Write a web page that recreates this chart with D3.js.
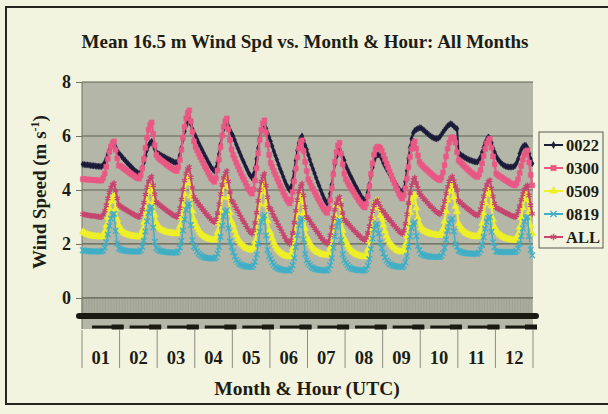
<!DOCTYPE html>
<html><head><meta charset="utf-8">
<script src="https://cdn.jsdelivr.net/npm/d3@7"></script>
<style>
html,body{margin:0;padding:0;background:#f3f4e1;}
svg{display:block;font-family:"Liberation Serif","Times New Roman",serif;font-weight:bold;}
</style></head><body>
<svg id="c" width="608" height="414"></svg>
<script>
const months = ["01","02","03","04","05","06","07","08","09","10","11","12"];
const yTicks = [0,2,4,6,8];
const seriesNames = ["0022","0300","0509","0819","ALL"];

const s0022 = [
[4.95,4.94,4.93,4.93,4.92,4.91,4.9,4.9,4.89,4.88,4.88,4.87,4.87,4.92,5.02,5.16,5.33,5.48,5.59,5.67,5.7,5.58,5.46,5.35],
[5.3,5.23,5.16,5.1,5.03,4.97,4.91,4.85,4.79,4.73,4.68,4.64,4.6,4.67,4.82,5.02,5.26,5.48,5.64,5.75,5.8,5.66,5.52,5.4],
[5.35,5.32,5.28,5.25,5.22,5.19,5.15,5.13,5.1,5.07,5.04,5.02,5.0,5.1,5.29,5.56,5.88,6.17,6.39,6.54,6.6,6.43,6.25,6.1],
[6.0,5.87,5.74,5.62,5.51,5.39,5.27,5.17,5.05,4.95,4.84,4.77,4.7,4.81,5.02,5.33,5.69,6.01,6.27,6.43,6.5,6.36,6.22,6.1],
[6.0,5.85,5.69,5.55,5.41,5.27,5.13,5.01,4.87,4.75,4.62,4.53,4.45,4.57,4.81,5.15,5.55,5.91,6.19,6.37,6.45,6.28,6.1,5.95],
[5.8,5.62,5.44,5.28,5.12,4.95,4.79,4.65,4.49,4.34,4.2,4.09,4.0,4.12,4.36,4.7,5.1,5.46,5.74,5.92,6.0,5.83,5.65,5.5],
[5.3,5.12,4.94,4.78,4.62,4.45,4.29,4.15,3.99,3.84,3.7,3.59,3.5,3.62,3.86,4.2,4.6,4.96,5.24,5.42,5.5,5.36,5.22,5.1],
[4.9,4.77,4.64,4.52,4.41,4.29,4.17,4.07,3.95,3.85,3.74,3.67,3.6,3.7,3.91,4.2,4.54,4.84,5.08,5.23,5.3,5.3,5.27,5.15],
[5.0,4.89,4.78,4.68,4.58,4.48,4.38,4.3,4.2,4.11,4.02,3.96,3.9,4.04,4.31,4.71,5.17,5.58,5.9,6.11,6.2,6.24,6.27,6.3],
[6.3,6.25,6.2,6.15,6.1,6.05,6.0,5.96,5.93,5.91,5.9,5.92,5.96,6.05,6.14,6.22,6.3,6.37,6.42,6.45,6.42,6.36,6.3,6.27],
[5.35,5.32,5.28,5.24,5.2,5.17,5.14,5.11,5.09,5.07,5.05,5.04,5.04,5.1,5.22,5.4,5.58,5.75,5.88,5.96,5.9,5.75,5.55,5.4],
[5.25,5.15,5.07,5.0,4.95,4.91,4.88,4.86,4.85,4.85,4.85,4.86,4.9,5.0,5.15,5.35,5.5,5.6,5.65,5.65,5.55,5.35,5.15,4.98]
];
const s0300 = [
[4.4,4.4,4.39,4.39,4.38,4.38,4.37,4.37,4.36,4.36,4.35,4.35,4.35,4.44,4.61,4.86,5.15,5.41,5.61,5.74,5.8,5.49,5.17,4.9],
[4.9,4.85,4.8,4.76,4.72,4.67,4.63,4.59,4.55,4.51,4.47,4.44,4.42,4.55,4.79,5.15,5.56,5.94,6.23,6.42,6.5,6.08,5.66,5.3],
[5.2,5.15,5.1,5.06,5.01,4.97,4.92,4.88,4.84,4.8,4.76,4.73,4.7,4.84,5.11,5.49,5.94,6.34,6.66,6.86,6.95,6.55,6.15,5.8],
[5.6,5.47,5.34,5.22,5.11,4.99,4.87,4.77,4.65,4.55,4.44,4.37,4.3,4.44,4.72,5.12,5.59,6.02,6.35,6.56,6.65,6.25,5.85,5.5],
[5.3,5.16,5.01,4.88,4.75,4.62,4.49,4.38,4.25,4.13,4.02,3.93,3.86,4.02,4.35,4.81,5.36,5.85,6.23,6.47,6.58,6.13,5.68,5.3],
[5.0,4.85,4.7,4.57,4.43,4.3,4.16,4.04,3.91,3.79,3.67,3.58,3.5,3.64,3.92,4.32,4.79,5.21,5.54,5.75,5.84,5.44,5.04,4.7],
[4.4,4.28,4.15,4.04,3.93,3.81,3.7,3.6,3.49,3.39,3.29,3.21,3.15,3.31,3.62,4.06,4.58,5.05,5.41,5.65,5.75,5.35,4.95,4.6],
[4.4,4.3,4.19,4.1,4.0,3.91,3.81,3.73,3.63,3.55,3.47,3.4,3.35,3.49,3.76,4.14,4.59,4.99,5.31,5.51,5.6,5.6,5.55,5.45],
[5.3,5.14,4.98,4.83,4.68,4.54,4.39,4.26,4.12,3.99,3.86,3.76,3.68,3.81,4.06,4.42,4.85,5.23,5.52,5.72,5.8,5.54,5.28,5.05],
[4.95,4.89,4.83,4.78,4.73,4.67,4.62,4.57,4.52,4.47,4.43,4.39,4.36,4.46,4.65,4.92,5.24,5.53,5.75,5.9,5.96,5.9,5.75,5.4],
[5.1,5.04,4.98,4.92,4.86,4.81,4.75,4.7,4.65,4.6,4.55,4.51,4.48,4.57,4.74,4.98,5.26,5.52,5.72,5.84,5.9,5.57,5.24,4.95],
[4.6,4.56,4.51,4.48,4.44,4.4,4.36,4.33,4.29,4.25,4.22,4.19,4.17,4.25,4.4,4.63,4.89,5.12,5.3,5.42,5.47,5.02,4.56,4.17]
];
const s0509 = [
[2.45,2.41,2.37,2.35,2.33,2.31,2.3,2.29,2.28,2.27,2.27,2.26,2.26,2.32,2.46,2.68,2.99,3.32,3.59,3.74,3.77,3.29,2.91,2.7],
[2.55,2.49,2.43,2.39,2.36,2.34,2.32,2.3,2.29,2.28,2.27,2.26,2.26,2.34,2.51,2.8,3.18,3.6,3.94,4.13,4.17,3.55,3.07,2.8],
[2.65,2.59,2.54,2.5,2.48,2.45,2.43,2.42,2.41,2.4,2.39,2.38,2.38,2.47,2.66,2.97,3.4,3.86,4.25,4.46,4.5,3.78,3.22,2.9],
[2.75,2.62,2.51,2.42,2.35,2.31,2.26,2.23,2.2,2.18,2.16,2.15,2.14,2.23,2.44,2.78,3.23,3.74,4.15,4.37,4.42,3.71,3.16,2.85],
[2.7,2.5,2.33,2.2,2.1,2.02,1.96,1.91,1.86,1.83,1.8,1.78,1.77,1.87,2.09,2.46,2.95,3.49,3.94,4.18,4.23,3.45,2.85,2.5],
[2.4,2.21,2.05,1.93,1.83,1.76,1.7,1.65,1.61,1.57,1.55,1.53,1.52,1.61,1.82,2.18,2.64,3.16,3.58,3.81,3.86,3.14,2.57,2.25],
[2.15,2.03,1.92,1.84,1.78,1.73,1.69,1.67,1.64,1.61,1.6,1.59,1.58,1.66,1.85,2.17,2.59,3.05,3.43,3.64,3.68,3.01,2.5,2.2],
[2.1,1.97,1.87,1.79,1.72,1.68,1.64,1.61,1.58,1.56,1.54,1.53,1.52,1.6,1.79,2.11,2.53,2.99,3.37,3.58,3.62,3.35,3.05,2.9],
[2.7,2.48,2.3,2.16,2.05,1.97,1.9,1.85,1.8,1.76,1.73,1.71,1.7,1.78,1.97,2.29,2.71,3.17,3.55,3.76,3.8,3.33,2.96,2.75],
[2.6,2.54,2.49,2.45,2.42,2.4,2.38,2.36,2.35,2.34,2.33,2.32,2.32,2.39,2.56,2.84,3.21,3.62,3.95,4.13,4.17,3.73,3.39,3.2],
[2.75,2.64,2.55,2.49,2.43,2.39,2.36,2.33,2.31,2.29,2.28,2.27,2.26,2.33,2.49,2.76,3.12,3.51,3.84,4.01,4.05,3.41,2.91,2.63],
[2.5,2.42,2.36,2.31,2.27,2.24,2.21,2.19,2.18,2.16,2.15,2.14,2.14,2.21,2.36,2.62,2.97,3.34,3.65,3.83,3.86,3.19,2.68,2.38]
];
const s0819 = [
[1.77,1.75,1.74,1.74,1.73,1.73,1.72,1.72,1.72,1.72,1.72,1.72,1.72,1.76,1.86,2.06,2.35,2.67,2.94,3.08,3.12,2.48,2.02,1.83],
[1.8,1.78,1.76,1.75,1.74,1.73,1.73,1.72,1.72,1.72,1.72,1.72,1.72,1.77,1.89,2.12,2.46,2.84,3.16,3.32,3.37,2.61,2.08,1.85],
[1.8,1.76,1.74,1.72,1.71,1.7,1.69,1.69,1.68,1.68,1.68,1.68,1.68,1.73,1.86,2.11,2.5,2.91,3.26,3.44,3.49,2.7,2.14,1.9],
[1.85,1.73,1.65,1.59,1.55,1.52,1.5,1.48,1.48,1.47,1.46,1.46,1.46,1.51,1.64,1.89,2.27,2.68,3.02,3.2,3.25,2.58,2.1,1.9],
[1.7,1.54,1.41,1.33,1.27,1.23,1.21,1.18,1.17,1.16,1.16,1.15,1.15,1.21,1.34,1.61,2.01,2.45,2.81,3.0,3.06,2.31,1.78,1.55],
[1.45,1.32,1.23,1.16,1.12,1.09,1.06,1.05,1.04,1.03,1.02,1.02,1.02,1.08,1.21,1.48,1.88,2.33,2.69,2.88,2.94,2.17,1.63,1.4],
[1.3,1.22,1.15,1.11,1.08,1.06,1.05,1.04,1.03,1.03,1.02,1.02,1.02,1.08,1.21,1.47,1.86,2.29,2.64,2.82,2.88,2.14,1.62,1.4],
[1.3,1.22,1.15,1.11,1.08,1.06,1.05,1.04,1.03,1.03,1.02,1.02,1.02,1.07,1.19,1.44,1.8,2.2,2.53,2.7,2.75,2.4,2.05,1.85],
[1.65,1.5,1.39,1.32,1.26,1.23,1.2,1.18,1.17,1.16,1.16,1.15,1.15,1.2,1.32,1.55,1.9,2.28,2.59,2.76,2.81,2.29,1.93,1.77],
[1.65,1.61,1.58,1.56,1.55,1.54,1.53,1.53,1.53,1.52,1.52,1.52,1.52,1.56,1.66,1.86,2.16,2.49,2.76,2.9,2.94,2.47,2.0,1.9],
[1.75,1.72,1.69,1.68,1.66,1.66,1.65,1.65,1.64,1.64,1.64,1.64,1.64,1.68,1.78,1.97,2.25,2.57,2.82,2.96,3.0,2.45,2.06,1.89],
[1.72,1.71,1.71,1.7,1.7,1.7,1.7,1.7,1.7,1.7,1.7,1.7,1.7,1.74,1.83,2.01,2.29,2.58,2.83,2.96,3.0,2.29,1.79,1.58]
];
const sALL = [
[3.1,3.09,3.08,3.07,3.06,3.05,3.04,3.04,3.03,3.02,3.01,3.0,3.0,3.08,3.23,3.44,3.69,3.91,4.09,4.2,4.25,3.97,3.69,3.45],
[3.4,3.36,3.32,3.28,3.25,3.21,3.18,3.14,3.11,3.08,3.04,3.02,3.0,3.09,3.27,3.53,3.83,4.1,4.31,4.44,4.5,4.17,3.84,3.55],
[3.5,3.45,3.4,3.36,3.31,3.27,3.22,3.18,3.14,3.1,3.06,3.03,3.0,3.11,3.33,3.65,4.02,4.35,4.61,4.78,4.85,4.47,4.08,3.75],
[3.65,3.57,3.48,3.41,3.33,3.26,3.18,3.11,3.04,2.97,2.9,2.85,2.81,2.92,3.15,3.47,3.85,4.19,4.45,4.62,4.7,4.32,3.93,3.6],
[3.55,3.43,3.32,3.21,3.11,3.0,2.9,2.8,2.7,2.6,2.51,2.44,2.38,2.51,2.78,3.16,3.6,4.0,4.31,4.51,4.6,4.16,3.73,3.35],
[3.3,3.17,3.04,2.93,2.81,2.69,2.58,2.47,2.36,2.26,2.15,2.08,2.01,2.14,2.41,2.79,3.23,3.63,3.94,4.14,4.23,3.8,3.37,3.0],
[2.95,2.86,2.76,2.68,2.59,2.51,2.42,2.35,2.26,2.19,2.11,2.06,2.01,2.11,2.32,2.62,2.96,3.27,3.52,3.67,3.74,3.45,3.15,2.9],
[2.85,2.78,2.71,2.64,2.58,2.52,2.45,2.4,2.33,2.28,2.22,2.18,2.14,2.23,2.41,2.66,2.95,3.22,3.43,3.56,3.62,3.5,3.37,3.25],
[3.2,3.12,3.04,2.96,2.89,2.82,2.74,2.68,2.6,2.54,2.47,2.42,2.38,2.5,2.75,3.1,3.52,3.89,4.18,4.37,4.45,4.26,4.07,3.9],
[3.8,3.73,3.66,3.6,3.53,3.47,3.41,3.35,3.29,3.23,3.18,3.14,3.1,3.18,3.35,3.59,3.87,4.12,4.32,4.44,4.5,4.33,4.15,4.0],
[3.6,3.55,3.49,3.44,3.39,3.34,3.29,3.25,3.2,3.16,3.11,3.08,3.05,3.13,3.29,3.51,3.77,4.01,4.19,4.31,4.36,4.06,3.76,3.5],
[3.35,3.32,3.28,3.25,3.22,3.19,3.15,3.13,3.1,3.07,3.04,3.02,3.0,3.07,3.21,3.41,3.64,3.85,4.02,4.12,4.17,3.8,3.44,3.12]
];

const seriesData = [s0022, s0300, s0509, s0819, sALL];
const colors = ["#1c1c3a","#ea5884","#eef028","#40afc6","#c6466f"];
const symbols = [d3.symbolDiamond, d3.symbolSquare, d3.symbolTriangle, d3.symbolX, d3.symbolAsterisk];
const symSize = [12, 24, 22, 22, 24];
const strokeSym = [false, false, false, true, true];
const lineW = [2, 2.2, 2.2, 1.5, 2];

const W = 608, H = 414;
const BG = "#f2f4e0";
const svg = d3.select("#c");
svg.append("rect").attr("width", W).attr("height", H).attr("fill", BG);
svg.append("rect").attr("x", 6).attr("y", 7).attr("width", 700).attr("height", 397)
  .attr("fill", "none").attr("stroke", "#26261e").attr("stroke-width", 2);

const P = {l: 82, r: 533, t: 82, b: 329};
const hours = d3.range(months.length * 24);
const x = d3.scaleBand().domain(hours).range([P.l, P.r]);
const mx = d3.scaleBand().domain(months).range([P.l, P.r]);
const y = d3.scaleLinear().domain([-1.15, 8]).range([P.b, P.t]);
const cx = i => x(i) + x.bandwidth() / 2;

// plot area
svg.append("rect").attr("x", P.l).attr("y", P.t).attr("width", P.r - P.l).attr("height", P.b - P.t)
  .attr("fill", "#b4b7a8");

// category tick stripes under zero
svg.append("g").selectAll("line").data(hours).join("line")
  .attr("x1", i => x(i)).attr("x2", i => x(i))
  .attr("y1", y(0)).attr("y2", y(0) + 16)
  .attr("stroke", "#999c8c").attr("stroke-width", 0.8);

// gridlines
svg.append("g").selectAll("line").data(yTicks).join("line")
  .attr("x1", P.l).attr("x2", P.r).attr("y1", d => y(d)).attr("y2", d => y(d))
  .attr("stroke", "#5e6252").attr("stroke-width", 1.2);

// y axis
svg.append("line").attr("x1", P.l).attr("x2", P.l).attr("y1", P.t).attr("y2", P.b)
  .attr("stroke", "#6d7060").attr("stroke-width", 1);
const ya = svg.append("g").attr("transform", `translate(${P.l},0)`)
  .call(d3.axisLeft(y).tickValues(yTicks).tickSize(6).tickPadding(5).tickFormat(d3.format("d")));
ya.select(".domain").remove();
ya.selectAll(".tick line").attr("stroke", "#6d7060");
ya.selectAll(".tick text").attr("font-family", "Liberation Serif").attr("font-weight", "bold")
  .attr("font-size", 18).attr("fill", "#1d1d16");

// series
const line = d3.line().x(d => cx(d.i)).y(d => y(d.v));
seriesData.forEach((arr, k) => {
  const pts = arr.flatMap((mon, mi) => mon.map((v, h) => ({i: mi * 24 + h, v})));
  const g = svg.append("g");
  g.append("path").datum(pts).attr("d", line).attr("fill", "none")
    .attr("stroke", colors[k]).attr("stroke-width", lineW[k]);
  const sym = d3.symbol().type(symbols[k]).size(symSize[k]);
  g.selectAll("path.m").data(pts).join("path").attr("class", "m")
    .attr("transform", d => `translate(${cx(d.i)},${y(d.v)})`)
    .attr("d", sym)
    .attr("fill", strokeSym[k] ? "none" : colors[k])
    .attr("stroke", colors[k]).attr("stroke-width", strokeSym[k] ? 1.3 : 0.5);
});

// category axis: dense hour labels rendered as a dark band
svg.append("line").attr("x1", P.l - 3).attr("x2", P.r + 3).attr("y1", 316).attr("y2", 316)
  .attr("stroke", "#1b1a12").attr("stroke-width", 6).attr("stroke-linecap", "round");
const mg = svg.append("g");
mg.selectAll("line.d").data(months).join("line").attr("class", "d")
  .attr("x1", m => mx(m) + 10).attr("x2", m => mx(m) + mx.bandwidth() + 4)
  .attr("y1", 327).attr("y2", 327).attr("stroke", "#1b1a12").attr("stroke-width", 3);
mg.selectAll("line.e").data(months).join("line").attr("class", "e")
  .attr("x1", m => mx(m) + mx.bandwidth() - 8).attr("x2", m => mx(m) + mx.bandwidth() + 4)
  .attr("y1", 327).attr("y2", 327).attr("stroke", "#1b1a12").attr("stroke-width", 5);
// month separators
const bounds = months.map(m => mx(m)).concat([P.r]);
svg.append("g").selectAll("line").data(bounds).join("line")
  .attr("x1", d => d).attr("x2", d => d).attr("y1", 330).attr("y2", 368)
  .attr("stroke", "#8c8d80").attr("stroke-width", 1);
svg.append("g").selectAll("text").data(months).join("text")
  .attr("x", m => mx(m) + mx.bandwidth() / 2).attr("y", 364)
  .attr("text-anchor", "middle").attr("font-size", 18.5).attr("fill", "#1d1d16").text(m => m);

// titles
svg.append("text").attr("x", 305).attr("y", 48).attr("text-anchor", "middle")
  .attr("font-size", 19).attr("fill", "#1d1d16")
  .text("Mean 16.5 m Wind Spd vs. Month & Hour: All Months");
svg.append("text").attr("x", 307).attr("y", 395).attr("text-anchor", "middle")
  .attr("font-size", 19.5).attr("fill", "#1d1d16").text("Month & Hour (UTC)");
const yt = svg.append("text").attr("transform", "translate(46,192) rotate(-90)")
  .attr("text-anchor", "middle").attr("font-size", 19).attr("fill", "#1d1d16");
yt.append("tspan").text("Wind Speed (m s");
yt.append("tspan").attr("dy", -7).attr("font-size", 12).text("-1");
yt.append("tspan").attr("dy", 7).text(")");

// legend
const L = {x: 539, y: 132, w: 64, h: 116};
svg.append("rect").attr("x", L.x).attr("y", L.y).attr("width", L.w).attr("height", L.h)
  .attr("fill", BG).attr("stroke", "#5a5a50").attr("stroke-width", 1);
seriesNames.forEach((name, k) => {
  const yy = 145 + k * 23;
  svg.append("line").attr("x1", 544).attr("x2", 563).attr("y1", yy).attr("y2", yy)
    .attr("stroke", colors[k]).attr("stroke-width", 2);
  svg.append("path").attr("transform", `translate(553.5,${yy})`)
    .attr("d", d3.symbol().type(symbols[k]).size(symSize[k] * 1.2))
    .attr("fill", strokeSym[k] ? "none" : colors[k])
    .attr("stroke", colors[k]).attr("stroke-width", strokeSym[k] ? 1.3 : 0.5);
  svg.append("text").attr("x", 566).attr("y", yy).attr("dy", "0.35em")
    .attr("font-size", 16.5).attr("fill", "#1d1d16").text(name);
});
</script>
</body></html>
